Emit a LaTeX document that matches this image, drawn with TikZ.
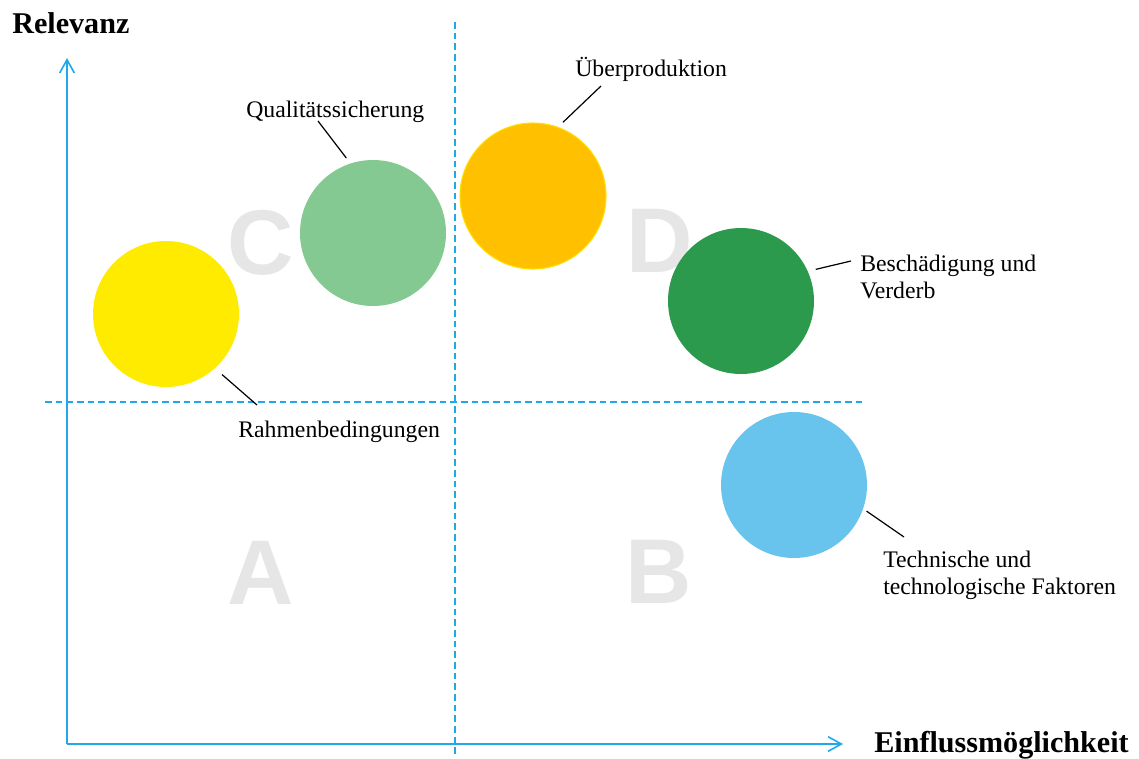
\documentclass[tikz,border=0pt]{standalone}
\usepackage{fontspec}
\setmainfont{Liberation Serif}
\newfontfamily\quadfont{Liberation Sans}
\usetikzlibrary{arrows.meta}

\definecolor{achsblau}{RGB}{32,168,232}
\definecolor{quadgrau}{RGB}{230,230,230}
\definecolor{gelb}{RGB}{255,235,0}
\definecolor{hellgruen}{RGB}{132,201,145}
\definecolor{orange}{RGB}{255,192,0}
\definecolor{orangerand}{RGB}{255,222,0}
\definecolor{dunkelgruen}{RGB}{44,154,76}
\definecolor{hellblau}{RGB}{104,196,236}

\begin{document}
\begin{tikzpicture}[x=0.75pt, y=-0.75pt,
	kreis/.style={circle, inner sep=0pt, minimum size=109.5pt},
	achse/.style={achsblau, line width=1.2pt, -{Straight Barb[length=10pt, width=11pt]}},
	teiler/.style={achsblau, line width=0.9pt, dash pattern=on 5pt off 3pt},
	quadrant/.style={text=quadgrau, font=\quadfont\bfseries\fontsize{69}{69}\selectfont},
	beschriftung/.style={anchor=base west, align=left, inner sep=0pt, font=\fontsize{17.8}{20}\selectfont},
	achsname/.style={anchor=base west, inner sep=0pt, font=\bfseries\fontsize{22.6}{24}\selectfont},
	leader/.style={black, line width=0.9pt, shorten <=5pt}]
		\useasboundingbox (0,0) rectangle (1139,758);

		% Coordinates
		\coordinate (ursprung) at (67,744);
		\coordinate (yende) at (67,58);
		\coordinate (xende) at (843,744);
		\coordinate (v_oben) at (455,22);
		\coordinate (v_unten) at (455,755);
		\coordinate (h_links) at (45,402);
		\coordinate (h_rechts) at (865,402);

		% Quadrants
		\node[quadrant] (quad_c) at (261,243) {C};
		\node[quadrant] (quad_d) at (660,241) {D};
		\node[quadrant] (quad_a) at (261,573) {A};
		\node[quadrant] (quad_b) at (659,572) {B};

		% Dividers and axes
		\draw[teiler] (v_oben) -- (v_unten);
		\draw[teiler] (h_links) -- (h_rechts);
		\draw[achse] (ursprung) -- (yende);
		\draw[achse] (ursprung) -- (xende);
		\node[achsname] (relevanz) at (12,33) {Relevanz};
		\node[achsname] (einfluss) at (874,752) {Einflussmöglichkeit};

		% Circles
		\node[kreis, fill=gelb] (rahmen) at (166,314) {};
		\node[kreis, fill=hellgruen] (qualitaet) at (373,233) {};
		\node[kreis, fill=orange, draw=orangerand, line width=0.8pt] (ueberprod) at (533,196) {};
		\node[kreis, fill=dunkelgruen] (verderb) at (741,301) {};
		\node[kreis, fill=hellblau] (technik) at (794,485) {};

		% Labels (two-line ones sit on their last baseline)
		\node[beschriftung] (rahmen_txt) at (238,437) {Rahmenbedingungen};
		\node[beschriftung] (qualitaet_txt) at (246,117) {Qualitätssicherung};
		\node[beschriftung] (ueberprod_txt) at (575,76) {Überproduktion};
		\node[beschriftung] (verderb_txt) at (860,298) {Beschädigung und\\Verderb};
		\node[beschriftung] (technik_txt) at (883,594) {Technische und\\technologische Faktoren};

		% Leader lines
		\coordinate (rahmen_end) at (257,405);
		\coordinate (qualitaet_end) at (318,121);
		\coordinate (ueberprod_end) at (601,86);
		\coordinate (verderb_end) at (851,261);
		\coordinate (technik_end) at (904,537);
		\path[leader] (rahmen.-48) edge[shorten <=7pt] (rahmen_end);
		\path[leader] (qualitaet.108) edge (qualitaet_end);
		\path[leader] (ueberprod.70) edge (ueberprod_end);
		\path[leader] (verderb.24) edge[shorten <=6pt] (verderb_end);
		\path[leader] (technik.-19) edge[shorten <=3pt] (technik_end);

	\end{tikzpicture}
\end{document}
